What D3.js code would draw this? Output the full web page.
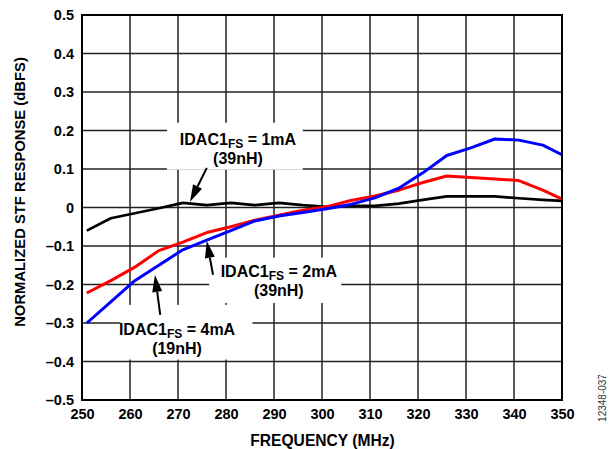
<!DOCTYPE html>
<html><head><meta charset="utf-8">
<script src="https://cdn.jsdelivr.net/npm/d3@7"></script>
<style>body{margin:0;background:#fff}svg{display:block}text{font-family:Arial,"Liberation Sans",sans-serif}</style>
</head><body>
<svg id="c" width="614" height="449"></svg>
<script>
const freqs = [251,256,261,266,271,276,281,286,291,296,301,306,311,316,321,326,331,336,341,346,350];
const black1mA = [-0.06,-0.028,-0.015,-0.002,0.012,0.006,0.012,0.006,0.012,0.006,0.002,0.004,0.004,0.01,0.02,0.029,0.029,0.029,0.024,0.02,0.017];
const red2mA = [-0.222,-0.19,-0.155,-0.112,-0.09,-0.065,-0.05,-0.033,-0.02,-0.007,0.002,0.018,0.03,0.045,0.065,0.082,0.078,0.074,0.07,0.045,0.022];
const blue4mA = [-0.30,-0.245,-0.19,-0.15,-0.11,-0.085,-0.06,-0.035,-0.022,-0.013,-0.003,0.008,0.025,0.05,0.09,0.135,0.155,0.178,0.175,0.162,0.137];
const xTicks = [250,260,270,280,290,300,310,320,330,340,350];
const yTicks = [-0.5,-0.4,-0.3,-0.2,-0.1,0,0.1,0.2,0.3,0.4,0.5];
const seriesColors = ["#000000","#ff0000","#0000ff"];

const svg = d3.select("#c");
const L=82, R=562, T=15, B=400;
const x = d3.scaleLinear().domain([250,350]).range([L,R]);
const y = d3.scaleLinear().domain([-0.5,0.5]).range([B,T]);
const FF = "Arial, 'Liberation Sans', sans-serif";

// grid
const g = svg.append("g");
g.selectAll("line.v").data(xTicks).join("line")
  .attr("x1",d=>x(d)).attr("x2",d=>x(d)).attr("y1",T).attr("y2",B)
  .attr("stroke","#222").attr("stroke-width",1.5);
g.selectAll("line.h").data(yTicks).join("line")
  .attr("y1",d=>y(d)).attr("y2",d=>y(d)).attr("x1",L).attr("x2",R)
  .attr("stroke","#222").attr("stroke-width",1.5);

// axes labels via d3 axes
const fmtY = d => d===0 ? "0" : (d<0 ? "–" : "") + Math.abs(d).toFixed(1);
const yAxis = svg.append("g").attr("transform",`translate(${L},0)`)
  .call(d3.axisLeft(y).tickValues(yTicks).tickFormat(fmtY).tickSize(0).tickPadding(8));
yAxis.select(".domain").remove();
yAxis.selectAll("text").attr("font-size",14.5).attr("font-weight","bold").attr("fill","#000").attr("font-family",FF);
const xAxis = svg.append("g").attr("transform",`translate(0,${B})`)
  .call(d3.axisBottom(x).tickValues(xTicks).tickFormat(d3.format("d")).tickSize(0).tickPadding(9));
xAxis.select(".domain").remove();
xAxis.selectAll("text").attr("font-size",14.5).attr("font-weight","bold").attr("fill","#000").attr("font-family",FF);

// series
const line = d3.line().x((d,i)=>x(freqs[i])).y(d=>y(d));
const series = [black1mA, red2mA, blue4mA];
const widths = [2.7,3,3];
series.forEach((s,k)=>{
  svg.append("path").datum(s).attr("d",line).attr("fill","none")
    .attr("stroke",seriesColors[k]).attr("stroke-width",widths[k]).attr("stroke-linejoin","round");
});

// frame
svg.append("rect").attr("x",L).attr("y",T).attr("width",R-L).attr("height",B-T)
  .attr("fill","none").attr("stroke","#000").attr("stroke-width",2);

// annotations
const anns = [
  {box:[267.7,296,0.22,0.098], tx:282.5, ty1:0.163, label:"1mA", sub:"(39nH)", arrow:[276,0.103,272.5,0.015]},
  {box:[276.5,304,-0.13,-0.248], tx:291, ty1:-0.18, label:"2mA", sub:"(39nH)", arrow:[277.3,-0.175,276,-0.087]},
  {box:[258,285.5,-0.253,-0.395], tx:269.8, ty1:-0.331, label:"4mA", sub:"(19nH)", arrow:[266.3,-0.279,265.2,-0.175]}
];
anns.forEach(a=>{
  svg.append("rect").attr("x",x(a.box[0])).attr("width",x(a.box[1])-x(a.box[0]))
    .attr("y",y(a.box[2])).attr("height",y(a.box[3])-y(a.box[2])).attr("fill","#fff");
});
anns.forEach(a=>{
  const cx = x(a.tx);
  const y0 = y(a.ty1);
  const t = svg.append("text").attr("x",cx).attr("y",y0).attr("text-anchor","middle")
    .attr("font-size",16).attr("font-weight","bold");
  t.append("tspan").text("IDAC1");
  t.append("tspan").text("FS").attr("font-size",12).attr("dy",3.5);
  t.append("tspan").text(" = "+a.label).attr("dy",-3.5);
  svg.append("text").attr("x",cx).attr("y",y0+19).attr("text-anchor","middle")
    .attr("font-size",16).attr("font-weight","bold").text(a.sub);
  const x1=x(a.arrow[0]), y1=y(a.arrow[1]), x2=x(a.arrow[2]), y2=y(a.arrow[3]);
  const ang=Math.atan2(y2-y1,x2-x1), hl=17, hw=5;
  const bx=x2-hl*Math.cos(ang), by=y2-hl*Math.sin(ang);
  svg.append("line").attr("x1",x1).attr("y1",y1).attr("x2",bx).attr("y2",by).attr("stroke","#000").attr("stroke-width",2);
  const px=-Math.sin(ang)*hw, py=Math.cos(ang)*hw;
  svg.append("path").attr("d",`M${x2},${y2}L${bx+px},${by+py}L${bx-px},${by-py}Z`).attr("fill","#000");
});

// titles
svg.append("text").attr("x",322.5).attr("y",446).attr("text-anchor","middle")
  .attr("font-size",15.6).attr("font-weight","bold").text("FREQUENCY (MHz)");
svg.append("text").attr("transform",`translate(25,192) rotate(-90)`).attr("text-anchor","middle")
  .attr("font-size",14.8).attr("font-weight","bold").text("NORMALIZED STF RESPONSE (dBFS)");
svg.append("text").attr("transform",`translate(606,398) rotate(-90)`).attr("text-anchor","middle")
  .attr("font-size",10).attr("fill","#333").text("12348-037");
</script>
</body></html>
